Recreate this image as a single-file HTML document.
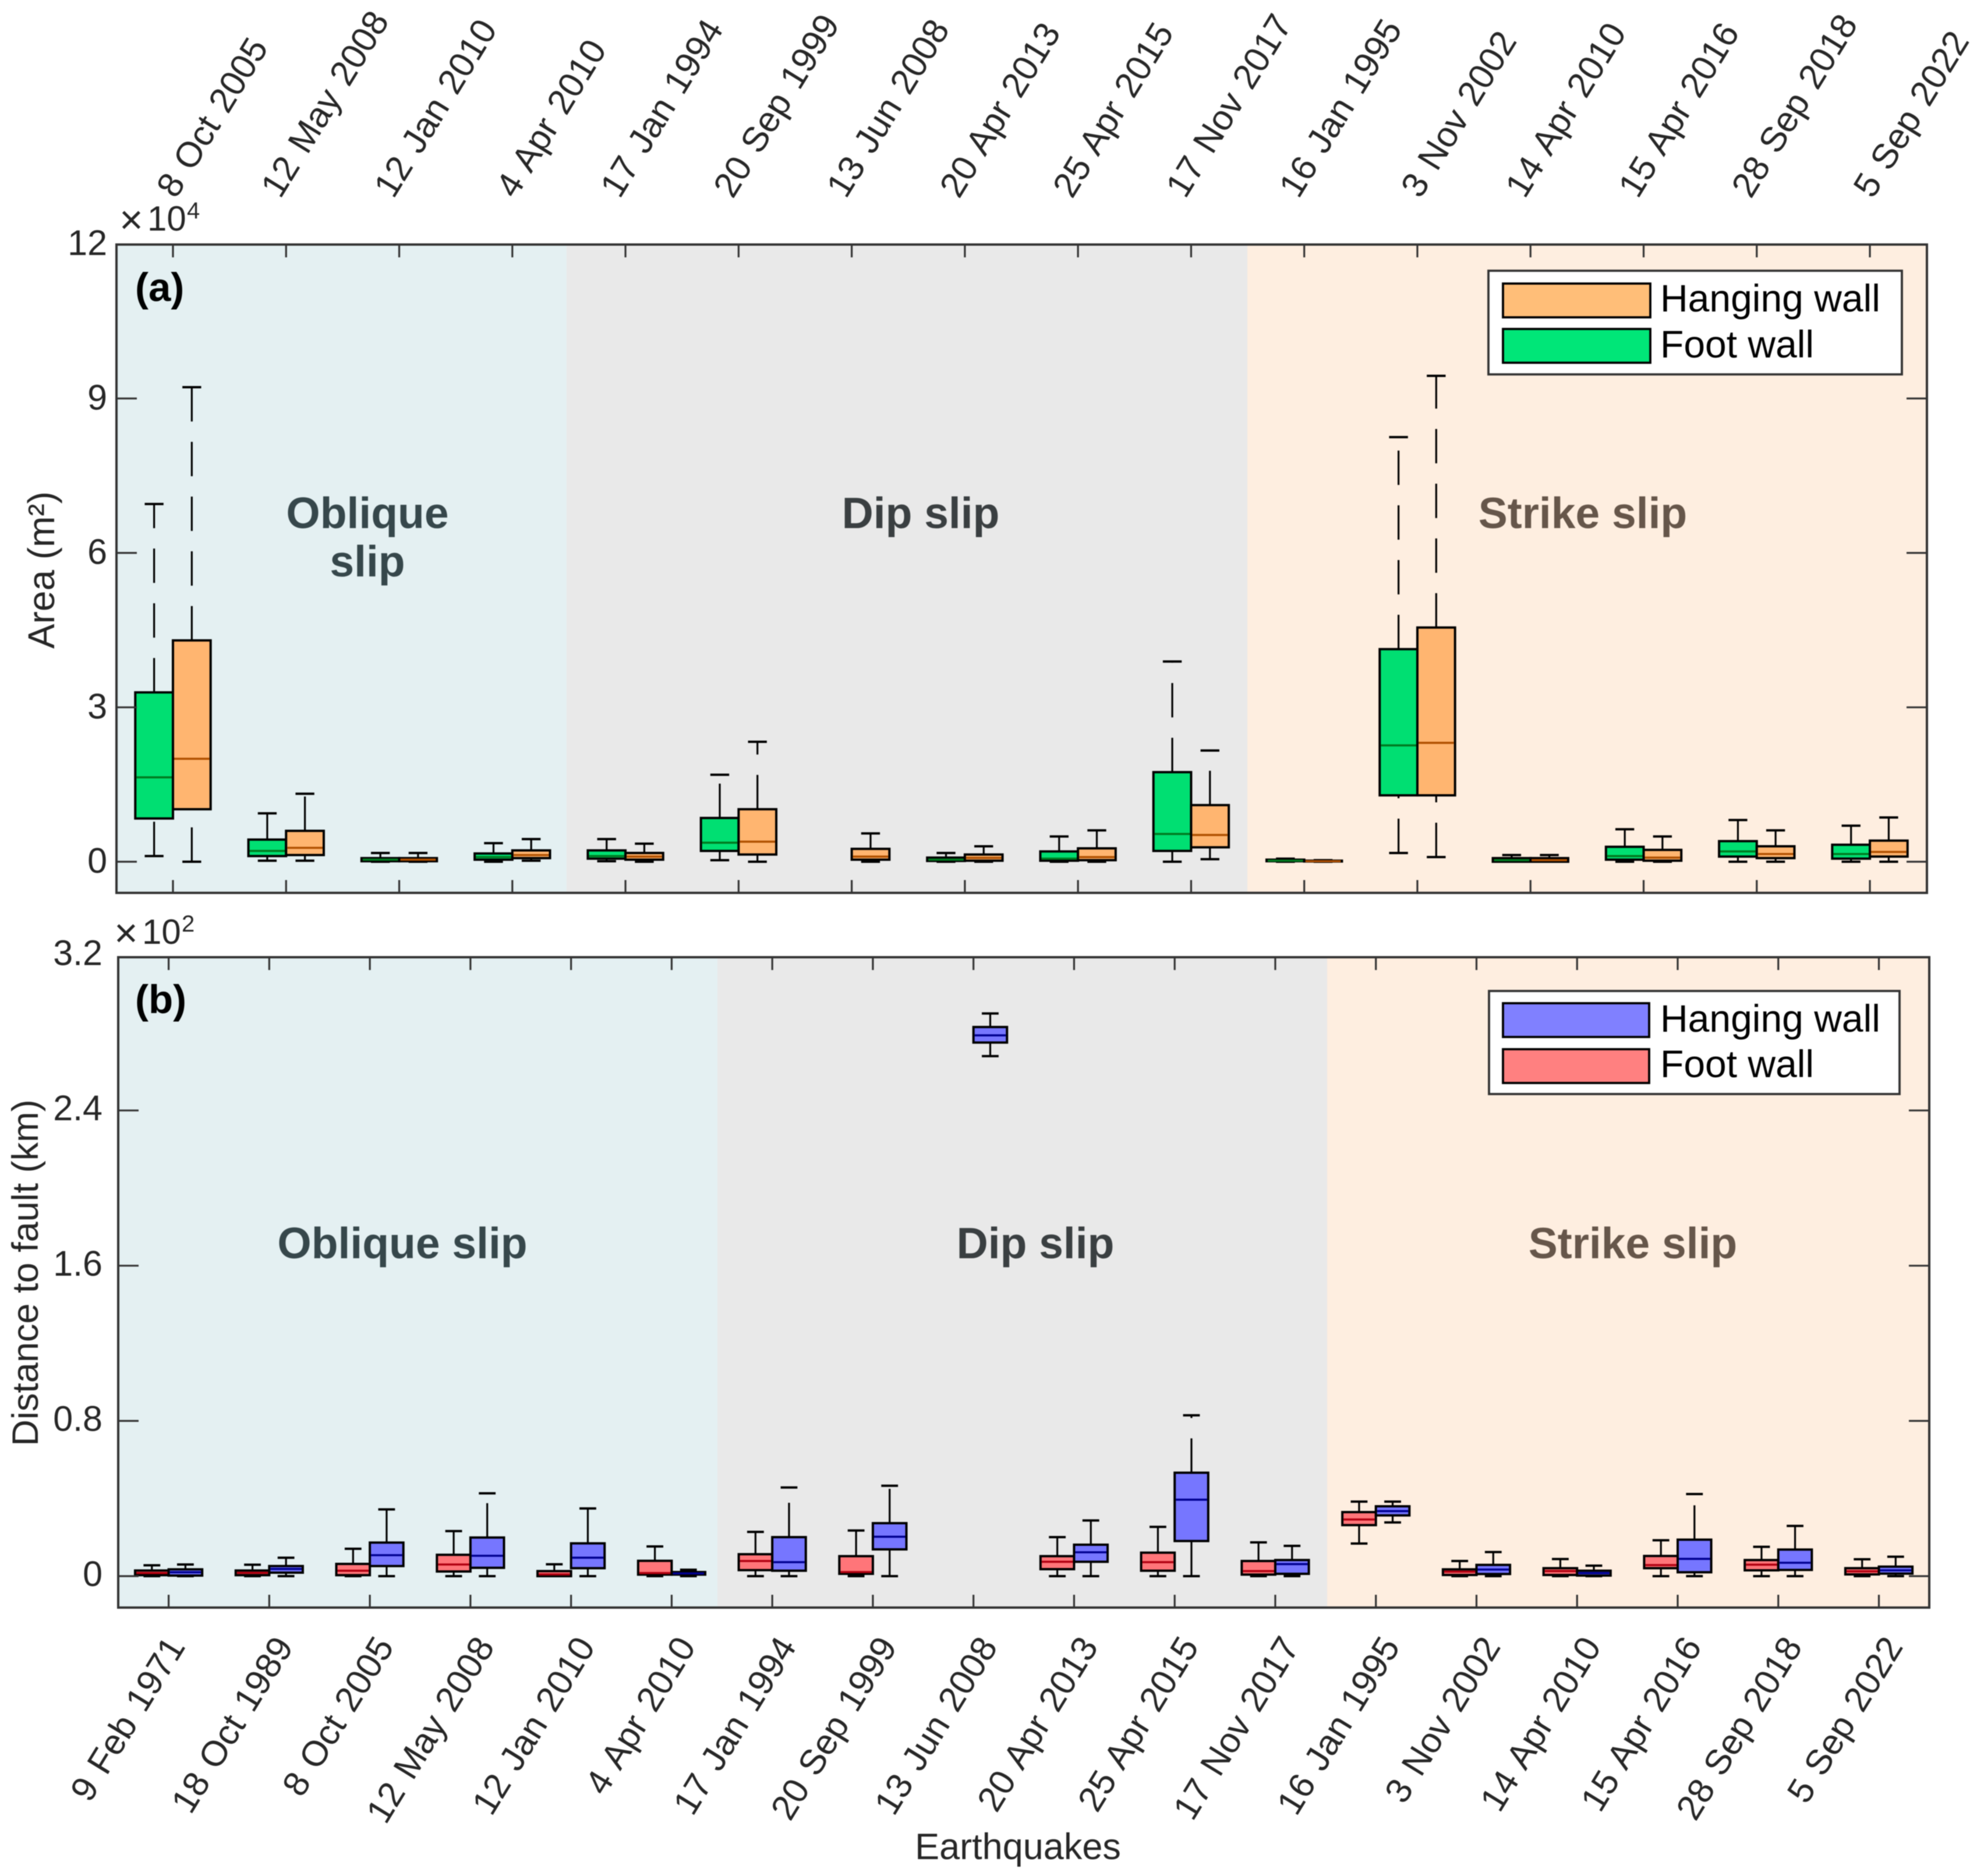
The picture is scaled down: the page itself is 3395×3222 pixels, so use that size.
<!DOCTYPE html>
<html lang="en">
<head>
<meta charset="utf-8">
<title>Earthquake area and distance box plots</title>
<style>
html,body{margin:0;padding:0;background:#fff;}
svg{display:block;font-family:"Liberation Sans",sans-serif;filter:blur(0.7px);}
.tick-text{font-size:61px;fill:#262626;}
.x-label{font-size:61px;fill:#262626;word-spacing:4px;}
.axis-title{font-size:63px;fill:#262626;}
.region{font-size:75px;font-weight:bold;text-anchor:middle;}
.panel-tag{font-size:69px;font-weight:bold;fill:#000;}
.legend-text{font-size:66px;fill:#000;}
</style>
</head>
<body>
<svg id="chart" xmlns="http://www.w3.org/2000/svg" width="3395" height="3222" viewBox="0 0 3395 3222">
  <rect x="0" y="0" width="3395" height="3222" fill="#fff"/>

  <g>
    <rect x="200" y="420" width="773" height="1114" fill="#e4f0f2"/>
    <rect x="973" y="420" width="1169" height="1114" fill="#e9e9e9"/>
    <rect x="2142" y="420" width="1167" height="1114" fill="#feeee0"/>
  </g>
  <g>
    <rect x="203" y="1644" width="1029" height="1117" fill="#e4f0f2"/>
    <rect x="1232" y="1644" width="1047" height="1117" fill="#e9e9e9"/>
    <rect x="2279" y="1644" width="1034" height="1117" fill="#feeee0"/>
  </g>

  <text class="region" fill="#36474b" x="631" y="907">Oblique</text>
  <text class="region" fill="#36474b" x="631" y="990">slip</text>
  <text class="region" fill="#3a3f41" x="1581" y="907">Dip slip</text>
  <text class="region" fill="#66564a" x="2718" y="907">Strike slip</text>
  <text class="region" fill="#36474b" x="691" y="2161">Oblique slip</text>
  <text class="region" fill="#3a3f41" x="1778" y="2161">Dip slip</text>
  <text class="region" fill="#66564a" x="2804" y="2161">Strike slip</text>

  <g id="marks-a"></g>
  <g id="marks-b"></g>
  <g id="axes-a"></g>
  <g id="axes-b"></g>

  <text class="panel-tag" x="232" y="517">(a)</text>
  <text class="panel-tag" x="232" y="1740">(b)</text>

  <g fill="#262626">
    <text x="205" y="401" font-size="70">×</text>
    <text x="253" y="396" font-size="60">10</text>
    <text x="321" y="375" font-size="40">4</text>
  </g>
  <g fill="#262626">
    <text x="196" y="1626" font-size="70">×</text>
    <text x="244" y="1621" font-size="60">10</text>
    <text x="312" y="1600" font-size="40">2</text>
  </g>

  <text class="axis-title" style="font-size:64px" text-anchor="middle" transform="translate(93 979) rotate(-90)">Area (m²)</text>
  <text class="axis-title" text-anchor="middle" transform="translate(65 2186) rotate(-90)">Distance to fault (km)</text>
  <text class="axis-title" text-anchor="middle" x="1748" y="3193">Earthquakes</text>

  <g>
    <rect x="2556" y="465" width="710" height="178" fill="#fff" stroke="#333" stroke-width="3.8"/>
    <rect x="2581" y="487" width="253" height="58" fill="#ffbe78" stroke="#000" stroke-width="3.8"/>
    <text class="legend-text" x="2851" y="535">Hanging wall</text>
    <rect x="2581" y="565" width="253" height="58" fill="#00e678" stroke="#000" stroke-width="3.8"/>
    <text class="legend-text" x="2851" y="614">Foot wall</text>
  </g>
  <g>
    <rect x="2557" y="1702" width="705" height="177" fill="#fff" stroke="#333" stroke-width="3.8"/>
    <rect x="2581" y="1723" width="251" height="58" fill="#8080ff" stroke="#000" stroke-width="3.8"/>
    <text class="legend-text" x="2851" y="1772">Hanging wall</text>
    <rect x="2581" y="1802" width="251" height="58" fill="#ff8080" stroke="#000" stroke-width="3.8"/>
    <text class="legend-text" x="2851" y="1850">Foot wall</text>
  </g>
</svg>

<script>
// ---- Panel (a): area, x 10^4 m^2 ----
const areaCategories = ['8 Oct 2005','12 May 2008','12 Jan 2010','4 Apr 2010','17 Jan 1994','20 Sep 1999','13 Jun 2008','20 Apr 2013','25 Apr 2015','17 Nov 2017','16 Jan 1995','3 Nov 2002','14 Apr 2010','15 Apr 2016','28 Sep 2018','5 Sep 2022'];
const areaTicks = [0,3,6,9,12];
const areaFootHigh = [6.95,0.94,0.17,0.36,0.44,1.69,null,0.17,0.49,3.89,0.06,8.25,0.13,0.63,0.81,0.70];
const areaFootQ3   = [3.29,0.43,0.07,0.16,0.22,0.85,null,0.08,0.20,1.74,0.04,4.13,0.07,0.29,0.40,0.33];
const areaFootMed  = [1.64,0.21,0.04,0.09,0.11,0.37,null,0.04,0.06,0.54,0.02,2.26,0.03,0.11,0.20,0.15];
const areaFootQ1   = [0.84,0.11,0.01,0.04,0.06,0.21,null,0.015,0.02,0.21,0.01,1.29,0.00,0.04,0.10,0.06];
const areaFootLow  = [0.11,0.02,0.00,0.00,0.01,0.03,null,0.00,0.00,0.00,0.00,0.17,0.00,0.00,0.00,0.00];
const areaHangHigh = [9.22,1.32,0.17,0.44,0.35,2.33,0.55,0.30,0.61,2.16,0.03,9.44,0.13,0.49,0.61,0.86];
const areaHangQ3   = [4.30,0.60,0.07,0.22,0.17,1.02,0.25,0.14,0.26,1.10,0.02,4.55,0.07,0.23,0.30,0.41];
const areaHangMed  = [2.00,0.27,0.04,0.13,0.10,0.39,0.10,0.075,0.09,0.52,0.01,2.31,0.03,0.08,0.15,0.19];
const areaHangQ1   = [1.02,0.13,0.01,0.07,0.04,0.14,0.04,0.02,0.03,0.28,0.005,1.29,0.00,0.02,0.07,0.10];
const areaHangLow  = [0.00,0.02,0.00,0.02,0.00,0.00,0.00,0.00,0.00,0.05,0.00,0.09,0.00,0.00,0.00,0.00];

// ---- Panel (b): distance to fault, x 10^2 km ----
const distCategories = ['9 Feb 1971','18 Oct 1989','8 Oct 2005','12 May 2008','12 Jan 2010','4 Apr 2010','17 Jan 1994','20 Sep 1999','13 Jun 2008','20 Apr 2013','25 Apr 2015','17 Nov 2017','16 Jan 1995','3 Nov 2002','14 Apr 2010','15 Apr 2016','28 Sep 2018','5 Sep 2022'];
const distTicks = [0,0.8,1.6,2.4,3.2];
const distFootHigh = [0.056,0.059,0.141,0.232,0.061,0.153,0.228,0.235,null,0.201,0.254,0.174,0.384,0.078,0.088,0.185,0.151,0.087];
const distFootQ3   = [0.029,0.029,0.063,0.110,0.026,0.079,0.113,0.103,null,0.103,0.121,0.078,0.330,0.035,0.041,0.104,0.083,0.041];
const distFootMed  = [0.016,0.017,0.028,0.060,0.009,0.016,0.078,0.021,null,0.074,0.072,0.026,0.292,0.023,0.026,0.057,0.059,0.025];
const distFootQ1   = [0.005,0.005,0.005,0.024,0.000,0.008,0.031,0.012,null,0.036,0.028,0.008,0.263,0.006,0.006,0.041,0.030,0.009];
const distFootLow  = [0.000,0.000,0.000,0.000,0.000,0.000,0.000,0.000,null,0.000,0.000,0.000,0.168,0.000,0.000,0.000,0.000,0.000];
const distHangHigh = [0.060,0.095,0.344,0.427,0.349,0.033,0.457,0.466,2.90,0.287,0.829,0.156,0.384,0.124,0.054,0.423,0.259,0.100];
const distHangQ3   = [0.035,0.052,0.173,0.199,0.169,0.021,0.201,0.273,2.83,0.162,0.533,0.083,0.360,0.058,0.028,0.188,0.137,0.049];
const distHangMed  = [0.020,0.037,0.108,0.105,0.095,0.014,0.072,0.203,2.787,0.123,0.394,0.062,0.335,0.034,0.016,0.089,0.069,0.030];
const distHangQ1   = [0.003,0.018,0.052,0.043,0.041,0.008,0.028,0.138,2.75,0.074,0.181,0.012,0.313,0.011,0.003,0.020,0.032,0.013];
const distHangLow  = [0.000,0.000,0.000,0.000,0.000,0.000,0.000,0.000,2.68,0.000,0.000,0.000,0.277,0.000,0.000,0.000,0.000,0.000];

const SVGNS = 'http://www.w3.org/2000/svg';
function make(tag, attrs, parent) {
  const el = document.createElementNS(SVGNS, tag);
  for (const k in attrs) el.setAttribute(k, attrs[k]);
  parent.appendChild(el);
  return el;
}

function drawBoxes(parent, side, index, x, width, y, vals, fill, medianColor) {
  if (vals.high[index] === null) return;
  const g = make('g', {}, parent);
  
  
  const cx = x + side * width / 2;
  const capHalf = width / 4;
  const upper = make('line', {x1: cx, x2: cx, y1: y(vals.q3[index]), y2: y(vals.high[index]), stroke: '#000', 'stroke-width': 3.2, 'stroke-dasharray': '59 35'}, g);
  
  
  const lower = make('line', {x1: cx, x2: cx, y1: y(vals.low[index]), y2: y(vals.q1[index]), stroke: '#000', 'stroke-width': 3.2, 'stroke-dasharray': '59 35'}, g);
  
  
  const capHigh = make('line', {x1: cx - capHalf, x2: cx + capHalf, y1: y(vals.high[index]), y2: y(vals.high[index]), stroke: '#000', 'stroke-width': 4}, g);
  
  
  const capLow = make('line', {x1: cx - capHalf, x2: cx + capHalf, y1: y(vals.low[index]), y2: y(vals.low[index]), stroke: '#000', 'stroke-width': 4}, g);
  
  
  const box = make('rect', {x: cx - width / 2, y: y(vals.q3[index]), width: width, height: y(vals.q1[index]) - y(vals.q3[index]), fill: fill, stroke: '#000', 'stroke-width': 4}, g);
  
  
  const med = make('line', {x1: cx - width / 2 + 2, x2: cx + width / 2 - 2, y1: y(vals.med[index]), y2: y(vals.med[index]), stroke: medianColor, 'stroke-width': 3.6}, g);
  
  
}

function drawAxes(parent, frame, categories, ticks, x, y, tickFormat, yLabelRight, yLabelDrop, labelAbove) {
  const border = make('rect', {x: frame.left, y: frame.top, width: frame.right - frame.left, height: frame.bottom - frame.top, fill: 'none', stroke: '#333', 'stroke-width': 4}, parent);
  
  
  categories.forEach(function (label, i) {
    const px = x(i);
    const tickTop = make('line', {x1: px, x2: px, y1: frame.top, y2: frame.top + 22, stroke: '#333', 'stroke-width': 3.2}, parent);
    
    
    const tickBottom = make('line', {x1: px, x2: px, y1: frame.bottom, y2: frame.bottom - 22, stroke: '#333', 'stroke-width': 3.2}, parent);
    
    
    const text = make('text', {class: 'x-label'}, parent);
    
    
    if (labelAbove) {
      const shift = label.indexOf(' ') === 2 ? -18 : -3;
      text.setAttribute('text-anchor', 'start');
      text.setAttribute('transform', 'translate(' + (px + 8 + shift) + ' 343) rotate(-58.5)');
    } else {
      const shift = i === 0 ? 6 : 19;
      text.setAttribute('text-anchor', 'end');
      text.setAttribute('transform', 'translate(' + (px + 24 + shift) + ' 2828) rotate(-58.5)');
    }
    text.textContent = label;
  });
  ticks.forEach(function (v) {
    const py = y(v);
    if (py > frame.top + 4) {
      const tickLeft = make('line', {x1: frame.left, x2: frame.left + 35, y1: py, y2: py, stroke: '#333', 'stroke-width': 3.2}, parent);
      
      
      const tickRight = make('line', {x1: frame.right, x2: frame.right - 35, y1: py, y2: py, stroke: '#333', 'stroke-width': 3.2}, parent);
      
      
    }
    const text = make('text', {class: 'tick-text', 'text-anchor': 'end', x: yLabelRight, y: py + yLabelDrop}, parent);
    
    
    text.textContent = tickFormat(v);
  });
}

// Axis functions
const xA = function (i) { return 297 + i * 194.27; };
const yA = function (v) { return 1480 - 88.4 * v; };
const xB = function (i) { return 289.6 + i * 172.76; };
const yB = function (v) { return 2707 - 333.25 * v; };

const marksA = document.getElementById('marks-a');
const marksB = document.getElementById('marks-b');
const areaFoot = {high: areaFootHigh, q3: areaFootQ3, med: areaFootMed, q1: areaFootQ1, low: areaFootLow};
const areaHang = {high: areaHangHigh, q3: areaHangQ3, med: areaHangMed, q1: areaHangQ1, low: areaHangLow};
const distFoot = {high: distFootHigh, q3: distFootQ3, med: distFootMed, q1: distFootQ1, low: distFootLow};
const distHang = {high: distHangHigh, q3: distHangQ3, med: distHangMed, q1: distHangQ1, low: distHangLow};

areaCategories.forEach(function (c, i) {
  drawBoxes(marksA, -1, i, xA(i), 64.7, yA, areaFoot, '#00df72', '#007a20');
  drawBoxes(marksA, 1, i, xA(i), 64.7, yA, areaHang, '#ffb570', '#b05000');
});
distCategories.forEach(function (c, i) {
  drawBoxes(marksB, -1, i, xB(i), 57.6, yB, distFoot, '#ff7579', '#b00010');
  drawBoxes(marksB, 1, i, xB(i), 57.6, yB, distHang, '#7676ff', '#000090');
});

drawAxes(document.getElementById('axes-a'), {left: 200, right: 3309, top: 420, bottom: 1533.5}, areaCategories, areaTicks, xA, yA, function (v) { return String(v); }, 184, 19, true);
drawAxes(document.getElementById('axes-b'), {left: 203, right: 3313, top: 1644, bottom: 2761}, distCategories, distTicks, xB, yB, function (v) { return v === 0 ? '0' : v.toFixed(1); }, 176, 17, false);
</script>
</body>
</html>
